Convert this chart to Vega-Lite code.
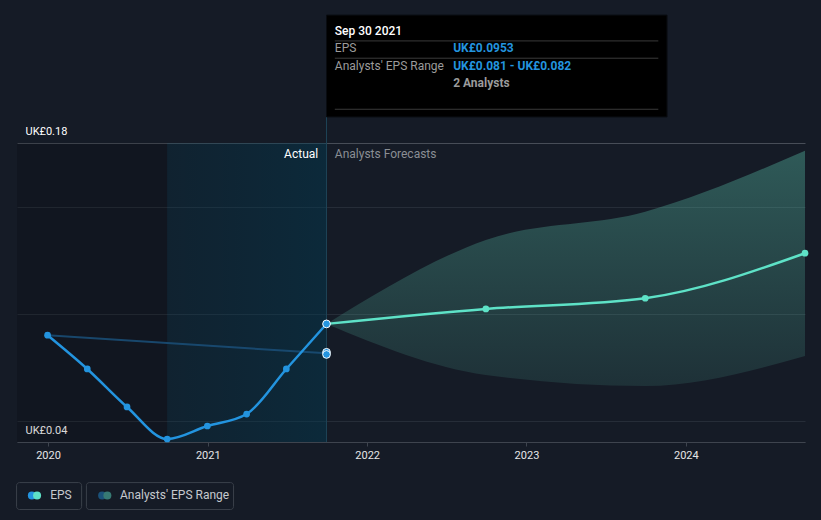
{
  "$schema": "https://vega.github.io/schema/vega-lite/v6.json",
  "width": 788,
  "height": 299,
  "autosize": {"type": "none"},
  "padding": {"left": 17, "top": 143, "right": 16, "bottom": 78},
  "background": "#151b26",
  "config": {"view": {"stroke": null}, "font": "Roboto"},
  "datasets": {
    "history": [
      {"date": "2019-12-31", "eps": 0.09},
      {"date": "2020-03-31", "eps": 0.0742},
      {"date": "2020-06-30", "eps": 0.0564},
      {"date": "2020-09-30", "eps": 0.0414},
      {"date": "2020-12-31", "eps": 0.0475},
      {"date": "2021-03-31", "eps": 0.0531},
      {"date": "2021-06-30", "eps": 0.0742},
      {"date": "2021-09-30", "eps": 0.0953}
    ],
    "forecast": [
      {"date": "2021-09-30", "eps": 0.0953, "low": 0.0953, "high": 0.0953},
      {"date": "2022-09-30", "eps": 0.1023, "low": 0.0714, "high": 0.1346},
      {"date": "2023-09-30", "eps": 0.1073, "low": 0.0662, "high": 0.1478},
      {"date": "2024-09-30", "eps": 0.1284, "low": 0.0803, "high": 0.1764}
    ],
    "estimate": [
      {"date": "2019-12-31", "eps": 0.09},
      {"date": "2021-09-30", "eps": 0.0815}
    ],
    "highlight": [
      {"date": "2021-09-30", "eps": 0.0953},
      {"date": "2021-09-30", "eps": 0.082},
      {"date": "2021-09-30", "eps": 0.081}
    ],
    "zones": [
      {"start": "2019-10-22", "end": "2020-09-30", "zone": "past"},
      {"start": "2020-09-30", "end": "2021-09-30", "zone": "recent"}
    ],
    "marker": [{"date": "2021-09-30", "low": 0.04, "high": 0.1922}],
    "labels": [
      {"text": "Actual", "date": "2021-09-11", "value": 0.1749, "side": "actual"},
      {"text": "Analysts Forecasts", "date": "2021-10-19", "value": 0.1749, "side": "forecast"}
    ],
    "tipbox": [{"start": "2021-09-30", "end": "2023-11-19", "low": 0.1922, "high": 0.2399}],
    "tiplines": [
      {"start": "2021-10-19", "end": "2023-10-30", "value": 0.2278},
      {"start": "2021-10-19", "end": "2023-10-30", "value": 0.2197},
      {"start": "2021-10-19", "end": "2023-10-30", "value": 0.1958}
    ],
    "tiptext": [
      {"text": "Sep 30 2021", "date": "2021-10-19", "value": 0.2326, "kind": "title"},
      {"text": "EPS", "date": "2021-10-19", "value": 0.2243, "kind": "label"},
      {"text": "UK£0.0953", "date": "2022-07-17", "value": 0.2243, "kind": "value"},
      {"text": "Analysts' EPS Range", "date": "2021-10-19", "value": 0.2161, "kind": "label"},
      {"text": "UK£0.081 - UK£0.082", "date": "2022-07-17", "value": 0.2161, "kind": "value"},
      {"text": "2 Analysts", "date": "2022-07-17", "value": 0.208, "kind": "note"}
    ],
    "legendbox": [
      {"item": "EPS", "start": "2019-10-21", "end": "2020-03-18", "low": 0.0084, "high": 0.0210},
      {"item": "Analysts' EPS Range", "start": "2020-03-29", "end": "2021-03-01", "low": 0.0084, "high": 0.0210}
    ],
    "legendswatch": [
      {"key": "EPS actual", "date": "2019-11-25", "value": 0.0150},
      {"key": "EPS forecast", "date": "2019-12-07", "value": 0.0150},
      {"key": "Range past", "date": "2020-05-04", "value": 0.0150},
      {"key": "Range forecast", "date": "2020-05-16", "value": 0.0150}
    ],
    "legendtext": [
      {"text": "EPS", "date": "2020-01-06", "value": 0.0152},
      {"text": "Analysts' EPS Range", "date": "2020-06-14", "value": 0.0152}
    ]
  },
  "layer": [
    {
      "data": {"name": "zones"},
      "transform": [{"filter": "datum.zone == 'past'"}],
      "mark": {"type": "rect", "fill": "#000000", "fillOpacity": 0.15},
      "encoding": {
        "x": {
          "field": "start", "type": "temporal", "title": null,
          "scale": {"domain": [{"year": 2019, "month": 10, "date": 22}, {"year": 2024, "month": 9, "date": 30}]},
          "axis": {
            "values": [{"year": 2020, "month": 1, "date": 1}, {"year": 2021, "month": 1, "date": 1}, {"year": 2022, "month": 1, "date": 1}, {"year": 2023, "month": 1, "date": 1}, {"year": 2024, "month": 1, "date": 1}],
            "format": "%Y", "labelColor": "#e6e6e6", "labelFontSize": 11, "tickSize": 4,
            "tickColor": "#3e444e", "domainColor": "#3e444e", "labelPadding": 3, "grid": false, "labelFlush": false
          }
        },
        "x2": {"field": "end"},
        "y": {
          "datum": 0.04, "type": "quantitative", "title": null,
          "scale": {"domain": [0.04, 0.18], "nice": false, "zero": false},
          "axis": {
            "values": [0.04, 0.05, 0.1, 0.15, 0.18],
            "domain": false, "ticks": false, "tickSize": 0, "grid": true,
            "gridColor": {"condition": {"test": "datum.value > 0.17", "value": "#474d57"}, "value": "#262d38"},
            "labelExpr": "datum.value > 0.17 || datum.value < 0.045 ? 'UK£' + format(datum.value, '.2f') : ''",
            "labelAlign": "left", "labelPadding": -8, "labelBaseline": "alphabetic", "labelOffset": -8.5,
            "labelColor": "#ffffff", "labelFontSize": 11, "labelFlush": false, "labelOverlap": false
          }
        },
        "y2": {"datum": 0.18}
      }
    },
    {
      "data": {"name": "zones"},
      "transform": [{"filter": "datum.zone == 'recent'"}],
      "mark": {
        "type": "rect",
        "fill": {"gradient": "linear", "x1": 0, "y1": 0, "x2": 1, "y2": 0,
          "stops": [{"offset": 0, "color": "rgba(0,57,80,0.24)"}, {"offset": 1, "color": "rgba(0,60,84,0.44)"}]}
      },
      "encoding": {
        "x": {"field": "start", "type": "temporal", "title": null},
        "x2": {"field": "end"},
        "y": {"datum": 0.04, "type": "quantitative", "title": null},
        "y2": {"datum": 0.18}
      }
    },
    {
      "data": {"name": "marker"},
      "mark": {"type": "rule", "color": "#1e4457", "strokeWidth": 1},
      "encoding": {
        "x": {"field": "date", "type": "temporal", "title": null},
        "y": {"field": "low", "type": "quantitative", "title": null},
        "y2": {"field": "high"}
      }
    },
    {
      "data": {"name": "forecast"},
      "mark": {
        "type": "area", "interpolate": "monotone",
        "fill": {"gradient": "linear", "x1": 0, "y1": 0, "x2": 0, "y2": 1,
          "stops": [{"offset": 0, "color": "rgba(95,207,181,0.35)"}, {"offset": 1, "color": "rgba(95,207,181,0.12)"}]}
      },
      "encoding": {
        "x": {"field": "date", "type": "temporal", "title": null},
        "y": {"field": "low", "type": "quantitative", "title": null},
        "y2": {"field": "high"}
      }
    },
    {
      "data": {"name": "estimate"},
      "mark": {"type": "line", "strokeWidth": 2, "color": "#1a4d74", "opacity": 0.9},
      "encoding": {
        "x": {"field": "date", "type": "temporal", "title": null},
        "y": {"field": "eps", "type": "quantitative", "title": null}
      }
    },
    {
      "data": {"name": "history"},
      "mark": {"type": "line", "interpolate": "monotone", "color": "#2394df", "strokeWidth": 2.5},
      "encoding": {
        "x": {"field": "date", "type": "temporal", "title": null},
        "y": {"field": "eps", "type": "quantitative", "title": null}
      }
    },
    {
      "data": {"name": "forecast"},
      "mark": {"type": "line", "interpolate": "monotone", "color": "#5ee2c7", "strokeWidth": 2.5},
      "encoding": {
        "x": {"field": "date", "type": "temporal", "title": null},
        "y": {"field": "eps", "type": "quantitative", "title": null}
      }
    },
    {
      "data": {"name": "history"},
      "mark": {"type": "point", "filled": true, "color": "#2394df", "size": 45, "opacity": 1},
      "encoding": {
        "x": {"field": "date", "type": "temporal", "title": null},
        "y": {"field": "eps", "type": "quantitative", "title": null}
      }
    },
    {
      "data": {"name": "forecast"},
      "transform": [{"filter": "year(datum.date) > 2021"}],
      "mark": {"type": "point", "filled": true, "color": "#5ee2c7", "size": 45, "opacity": 1},
      "encoding": {
        "x": {"field": "date", "type": "temporal", "title": null},
        "y": {"field": "eps", "type": "quantitative", "title": null}
      }
    },
    {
      "data": {"name": "highlight"},
      "mark": {"type": "point", "filled": true, "fill": "#2394df", "stroke": "#ffffff", "strokeWidth": 1, "size": 60, "opacity": 1},
      "encoding": {
        "x": {"field": "date", "type": "temporal", "title": null},
        "y": {"field": "eps", "type": "quantitative", "title": null}
      }
    },
    {
      "data": {"name": "labels"},
      "transform": [{"filter": "datum.side == 'actual'"}],
      "mark": {"type": "text", "align": "right", "baseline": "middle", "fontSize": 12, "color": "#ffffff"},
      "encoding": {
        "x": {"field": "date", "type": "temporal", "title": null},
        "y": {"field": "value", "type": "quantitative", "title": null},
        "text": {"field": "text"}
      }
    },
    {
      "data": {"name": "labels"},
      "transform": [{"filter": "datum.side == 'forecast'"}],
      "mark": {"type": "text", "align": "left", "baseline": "middle", "fontSize": 12, "color": "#8a8e94"},
      "encoding": {
        "x": {"field": "date", "type": "temporal", "title": null},
        "y": {"field": "value", "type": "quantitative", "title": null},
        "text": {"field": "text"}
      }
    },
    {
      "data": {"name": "tipbox"},
      "mark": {"type": "rect", "fill": "#000000", "stroke": "#0a0d12", "strokeWidth": 1},
      "encoding": {
        "x": {"field": "start", "type": "temporal", "title": null},
        "x2": {"field": "end"},
        "y": {"field": "low", "type": "quantitative", "title": null},
        "y2": {"field": "high"}
      }
    },
    {
      "data": {"name": "tiplines"},
      "mark": {"type": "rule", "color": "#3a3a3a", "strokeWidth": 1},
      "encoding": {
        "x": {"field": "start", "type": "temporal", "title": null},
        "x2": {"field": "end"},
        "y": {"field": "value", "type": "quantitative", "title": null}
      }
    },
    {
      "data": {"name": "tiptext"},
      "transform": [{"filter": "datum.kind == 'title'"}],
      "mark": {"type": "text", "align": "left", "baseline": "middle", "fontSize": 12, "fontWeight": 500, "color": "#ffffff"},
      "encoding": {
        "x": {"field": "date", "type": "temporal", "title": null},
        "y": {"field": "value", "type": "quantitative", "title": null},
        "text": {"field": "text"}
      }
    },
    {
      "data": {"name": "tiptext"},
      "transform": [{"filter": "datum.kind == 'label'"}],
      "mark": {"type": "text", "align": "left", "baseline": "middle", "fontSize": 12, "color": "#9b9b9b"},
      "encoding": {
        "x": {"field": "date", "type": "temporal", "title": null},
        "y": {"field": "value", "type": "quantitative", "title": null},
        "text": {"field": "text"}
      }
    },
    {
      "data": {"name": "tiptext"},
      "transform": [{"filter": "datum.kind == 'value'"}],
      "mark": {"type": "text", "align": "left", "baseline": "middle", "fontSize": 12, "fontWeight": "bold", "color": "#2394df"},
      "encoding": {
        "x": {"field": "date", "type": "temporal", "title": null},
        "y": {"field": "value", "type": "quantitative", "title": null},
        "text": {"field": "text"}
      }
    },
    {
      "data": {"name": "tiptext"},
      "transform": [{"filter": "datum.kind == 'note'"}],
      "mark": {"type": "text", "align": "left", "baseline": "middle", "fontSize": 12, "fontWeight": "bold", "color": "#9b9b9b"},
      "encoding": {
        "x": {"field": "date", "type": "temporal", "title": null},
        "y": {"field": "value", "type": "quantitative", "title": null},
        "text": {"field": "text"}
      }
    },
    {
      "data": {"name": "legendbox"},
      "mark": {"type": "rect", "fill": null, "fillOpacity": 0, "stroke": "#3a404a", "strokeWidth": 1, "cornerRadius": 3},
      "encoding": {
        "x": {"field": "start", "type": "temporal", "title": null},
        "x2": {"field": "end"},
        "y": {"field": "low", "type": "quantitative", "title": null},
        "y2": {"field": "high"}
      }
    },
    {
      "data": {"name": "legendswatch"},
      "mark": {"type": "circle", "size": 64, "opacity": 1},
      "encoding": {
        "x": {"field": "date", "type": "temporal", "title": null},
        "y": {"field": "value", "type": "quantitative", "title": null},
        "fill": {
          "field": "key", "type": "nominal", "legend": null,
          "scale": {"domain": ["EPS actual", "EPS forecast", "Range past", "Range forecast"], "range": ["#2394df", "#5ee2c7", "#1b527a", "#377a74"]}
        }
      }
    },
    {
      "data": {"name": "legendtext"},
      "mark": {"type": "text", "align": "left", "baseline": "middle", "fontSize": 12, "color": "#c6c9ce"},
      "encoding": {
        "x": {"field": "date", "type": "temporal", "title": null},
        "y": {"field": "value", "type": "quantitative", "title": null},
        "text": {"field": "text"}
      }
    }
  ]
}
